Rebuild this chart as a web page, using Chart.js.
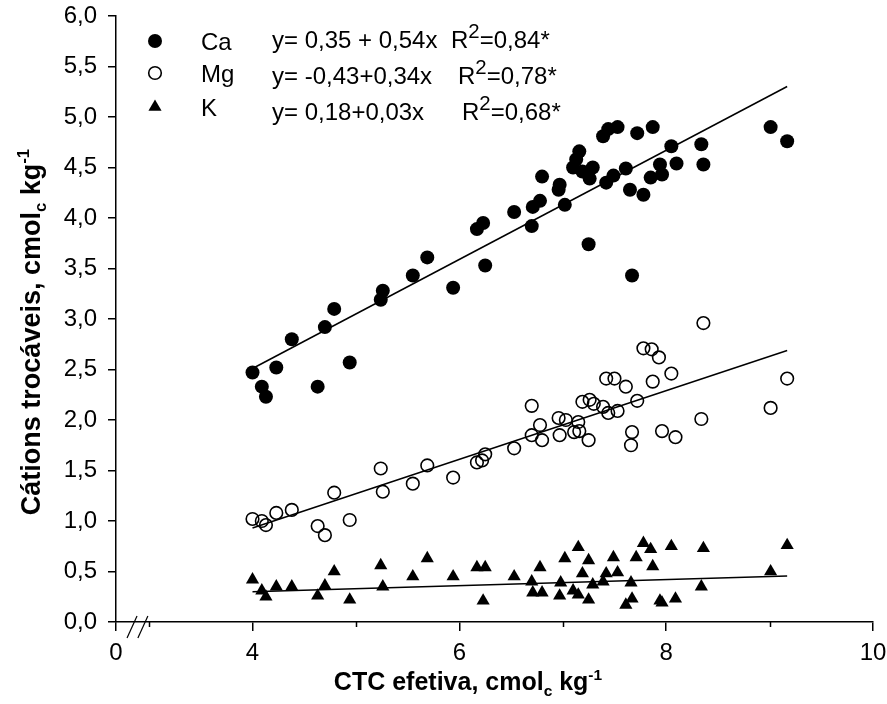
<!DOCTYPE html>
<html>
<head>
<meta charset="utf-8">
<title>Cátions trocáveis x CTC efetiva</title>
<script src="https://cdn.jsdelivr.net/npm/chart.js@4.4.0/dist/chart.umd.min.js"></script>
<style>
  html, body { margin: 0; padding: 0; background: #fff; }
  canvas { display: block; }
</style>
</head>
<body>
<canvas id="chart" width="887" height="704"></canvas>
<script>
// Exchangeable cations (Ca, Mg, K) against effective CEC, with linear fits.

const seriesNames = ['Ca', 'Mg', 'K'];

const caX = [4.00, 4.09, 4.13, 4.23, 4.38, 4.63, 4.70, 4.79, 4.94, 5.24, 5.26, 5.55, 5.69, 5.94,
             6.17, 6.23, 6.25, 6.53, 6.70, 6.71, 6.78, 6.80, 6.97, 6.96, 7.02, 7.16, 7.13, 7.10,
             7.19, 7.26, 7.29, 7.39, 7.44, 7.53, 7.72, 7.87, 7.42, 7.49, 7.61, 7.65, 7.78, 7.85,
             7.94, 7.96, 8.05, 8.10, 8.34, 8.36, 9.01, 9.17, 7.25, 7.67];
const caY = [2.47, 2.33, 2.23, 2.52, 2.80, 2.33, 2.92, 3.10, 2.57, 3.19, 3.28, 3.43, 3.61, 3.31,
             3.89, 3.95, 3.53, 4.06, 3.92, 4.11, 4.17, 4.41, 4.33, 4.28, 4.13, 4.66, 4.58, 4.50,
             4.46, 4.39, 4.50, 4.81, 4.88, 4.90, 4.84, 4.90, 4.35, 4.42, 4.49, 4.28, 4.23, 4.40,
             4.53, 4.43, 4.71, 4.54, 4.73, 4.53, 4.90, 4.76, 3.74, 3.43];

const mgX = [4.00, 4.09, 4.13, 4.23, 4.38, 4.63, 4.70, 4.79, 4.94, 5.24, 5.26, 5.55, 5.69, 5.94,
             6.17, 6.22, 6.25, 6.53, 6.70, 6.70, 6.78, 6.80, 6.96, 6.97, 7.03, 7.15, 7.11, 7.16,
             7.25, 7.19, 7.26, 7.30, 7.39, 7.44, 7.53, 7.42, 7.50, 7.61, 7.72, 7.67, 7.66, 7.78,
             7.86, 7.93, 7.87, 8.05, 7.96, 8.09, 8.36, 8.34, 9.01, 9.17];
const mgY = [1.02, 1.00, 0.96, 1.08, 1.11, 0.95, 0.86, 1.28, 1.01, 1.52, 1.29, 1.37, 1.55, 1.43,
             1.58, 1.60, 1.66, 1.72, 2.14, 1.85, 1.95, 1.80, 2.02, 1.85, 2.00, 1.98, 1.88, 1.89,
             1.80, 2.18, 2.20, 2.16, 2.13, 2.07, 2.09, 2.41, 2.41, 2.33, 2.19, 1.88, 1.75, 2.71,
             2.70, 2.62, 2.38, 2.46, 1.89, 1.83, 2.96, 2.01, 2.12, 2.41];

const kX = [4.00, 4.09, 4.13, 4.23, 4.38, 4.63, 4.70, 4.79, 4.94, 5.24, 5.26, 5.55, 5.69, 5.94,
            6.17, 6.25, 6.23, 6.53, 6.70, 6.78, 6.71, 6.80, 6.97, 6.98, 7.02, 7.10, 7.15, 7.15,
            7.19, 7.25, 7.25, 7.29, 7.39, 7.42, 7.49, 7.53, 7.61, 7.67, 7.66, 7.71, 7.78, 7.85,
            7.87, 7.94, 7.96, 8.05, 8.09, 8.36, 8.34, 9.01, 9.17];
const kY = [0.42, 0.31, 0.25, 0.35, 0.35, 0.26, 0.36, 0.50, 0.22, 0.56, 0.35, 0.45, 0.63, 0.45,
            0.54, 0.54, 0.21, 0.45, 0.40, 0.54, 0.29, 0.29, 0.26, 0.39, 0.63, 0.31, 0.27, 0.74,
            0.48, 0.61, 0.22, 0.37, 0.40, 0.48, 0.64, 0.49, 0.17, 0.23, 0.39, 0.64, 0.78, 0.72,
            0.55, 0.21, 0.19, 0.75, 0.23, 0.73, 0.35, 0.50, 0.76];

// Fitted equations y = a + b·x
const intercepts = [0.35, -0.43, 0.18];
const slopes = [0.54, 0.34, 0.03];
const r2Values = [0.84, 0.78, 0.68];

// Axis ticks; the x axis is broken, its first tick stands for zero
const xBreakLabel = '0';
const xMajorTicks = [4, 6, 8, 10];
const xMinorTicks = [3, 5, 7, 9];
const yTickStep = 0.5;
const yMax = 6;

// ---- styles ----
const FONT = '"Liberation Sans", Arial, Helvetica, sans-serif';
const TEXT_SIZE = 24;
const X_TITLE_SIZE = 25;
const Y_TITLE_SIZE = 27;
const AXIS_W = 1.5;
const X_START = 2.68;
const X_END = 10;

const comma = (v, d) => v.toFixed(d).replace('.', ',');
const pairs = (xs, ys) => xs.map((x, i) => ({ x, y: ys[i] }));

const fitFrom = Math.min(...caX, ...mgX, ...kX);
const fitTo = Math.max(...caX, ...mgX, ...kX);

const markerStyles = [
  { pointStyle: 'circle', radius: 7, backgroundColor: '#000', borderColor: '#000', borderWidth: 0 },
  { pointStyle: 'circle', radius: 6.3, backgroundColor: 'rgba(0,0,0,0)', borderColor: '#000', borderWidth: 1.6 },
  { pointStyle: 'triangle', radius: 7.6, backgroundColor: '#000', borderColor: '#000', borderWidth: 0 }
];

const pointSets = [pairs(caX, caY), pairs(mgX, mgY), pairs(kX, kY)];

const datasets = [];
pointSets.forEach((data, i) => {
  const m = markerStyles[i];
  datasets.push({
    label: seriesNames[i],
    data,
    showLine: false,
    pointStyle: m.pointStyle,
    pointRadius: m.radius,
    pointBackgroundColor: m.backgroundColor,
    pointBorderColor: m.borderColor,
    pointBorderWidth: m.borderWidth,
    order: 1
  });
});
intercepts.forEach((a, i) => {
  const b = slopes[i];
  datasets.push({
    label: seriesNames[i] + ' ajuste',
    data: [{ x: fitFrom, y: a + b * fitFrom }, { x: fitTo, y: a + b * fitTo }],
    showLine: true,
    borderColor: '#000',
    borderWidth: 1.5,
    pointRadius: 0,
    order: 2
  });
});

// Equation strings built from the coefficients
const eqSeparators = [' + ', '+', '+'];
const equationText = intercepts.map((a, i) =>
  'y= ' + comma(a, 2) + eqSeparators[i] + comma(slopes[i], 2) + 'x');

// Draws a run of text pieces; each piece is [text, mode] where mode is '', 'sub' or 'sup'
function drawRich(ctx, parts, x, y, size, weight, align, supScale) {
  const sizeOf = m => (m === 'sup' ? size * (supScale || 0.62) : m === 'sub' ? size * 0.62 : size);
  const widths = parts.map(([t, m]) => {
    ctx.font = `${weight} ${sizeOf(m)}px ${FONT}`;
    return ctx.measureText(t).width;
  });
  const total = widths.reduce((s, w) => s + w, 0);
  let cx = align === 'center' ? x - total / 2 : x;
  ctx.textAlign = 'left';
  ctx.textBaseline = 'alphabetic';
  parts.forEach(([t, m], i) => {
    ctx.font = `${weight} ${sizeOf(m)}px ${FONT}`;
    const dy = m === 'sub' ? size * 0.24 : m === 'sup' ? -size * 0.42 : 0;
    ctx.fillText(t, cx, y + dy);
    cx += widths[i];
  });
}

const overlay = {
  id: 'overlay',
  afterDraw(chart) {
    const { ctx, chartArea: area } = chart;
    const sx = chart.scales.x;
    ctx.save();
    ctx.strokeStyle = '#000';
    ctx.fillStyle = '#000';
    ctx.lineWidth = AXIS_W;

    // minor ticks on the x axis
    xMinorTicks.forEach(v => {
      const px = Math.round(sx.getPixelForValue(v)) + 0.5;
      ctx.beginPath();
      ctx.moveTo(px, area.bottom);
      ctx.lineTo(px, area.bottom + 5);
      ctx.stroke();
    });

    // axis break marks
    ctx.lineWidth = 1.2;
    [2.835, 2.94].forEach(v => {
      const px = sx.getPixelForValue(v);
      ctx.beginPath();
      ctx.moveTo(px - 5, area.bottom + 16);
      ctx.lineTo(px + 5, area.bottom - 6);
      ctx.stroke();
    });

    // legend
    const legendY = [41, 73, 107];
    markerStyles.forEach((m, i) => {
      ctx.fillStyle = m.backgroundColor;
      ctx.strokeStyle = m.borderColor;
      ctx.lineWidth = m.borderWidth;
      Chart.helpers.drawPoint(ctx, { pointStyle: m.pointStyle, radius: m.radius, borderWidth: m.borderWidth, rotation: 0 }, 155, legendY[i]);
    });
    ctx.fillStyle = '#000';
    seriesNames.forEach((n, i) => {
      drawRich(ctx, [[n, '']], 201, legendY[i] + 9, TEXT_SIZE, 'normal', 'left');
    });

    // equations and coefficients of determination
    const eqY = [48, 84, 120];
    const r2X = [451, 458, 462];
    equationText.forEach((t, i) => {
      drawRich(ctx, [[t, '']], 272, eqY[i], TEXT_SIZE, 'normal', 'left');
      drawRich(ctx, [['R', ''], ['2', 'sup'], ['=' + comma(r2Values[i], 2) + '*', '']],
        r2X[i], eqY[i], TEXT_SIZE, 'normal', 'left', 0.85);
    });

    // axis titles
    drawRich(ctx, [['CTC efetiva, cmol', ''], ['c', 'sub'], [' kg', ''], ['-1', 'sup']],
      468, 690, X_TITLE_SIZE, 'bold', 'center');
    ctx.save();
    ctx.translate(40, 332);
    ctx.rotate(-Math.PI / 2);
    drawRich(ctx, [['Cátions trocáveis, cmol', ''], ['c', 'sub'], [' kg', ''], ['-1', 'sup']],
      0, 0, Y_TITLE_SIZE, 'bold', 'center');
    ctx.restore();

    ctx.restore();
  }
};

const tickFont = { family: FONT, size: TEXT_SIZE };

// keep the plot area where the layout padding puts it
const noEdgePadding = s => { s.paddingLeft = 0; s.paddingRight = 0; s.paddingTop = 0; s.paddingBottom = 0; };

new Chart(document.getElementById('chart'), {
  type: 'scatter',
  data: { datasets },
  options: {
    responsive: false,
    animation: false,
    devicePixelRatio: 1,
    layout: { padding: { top: 16, right: 14, bottom: 0, left: 0 } },
    plugins: { legend: { display: false }, tooltip: { enabled: false } },
    scales: {
      x: {
        type: 'linear',
        min: X_START,
        max: X_END,
        afterBuildTicks: s => { s.ticks = [X_START, ...xMajorTicks].map(value => ({ value })); },
        afterFit: s => { s.height = 82; noEdgePadding(s); },
        border: { color: '#000', width: AXIS_W },
        grid: { drawOnChartArea: false, tickLength: 9, color: '#000', lineWidth: AXIS_W },
        ticks: {
          font: tickFont, color: '#000', padding: 8, maxRotation: 0, autoSkip: false,
          callback: v => (v === X_START ? xBreakLabel : String(v))
        }
      },
      y: {
        min: 0,
        max: yMax,
        afterFit: s => { s.width = 116; noEdgePadding(s); },
        border: { color: '#000', width: AXIS_W },
        grid: { drawOnChartArea: false, tickLength: 8, color: '#000', lineWidth: AXIS_W },
        ticks: {
          stepSize: yTickStep, font: tickFont, color: '#000', padding: 11,
          callback: v => comma(v, 1)
        }
      }
    }
  },
  plugins: [overlay]
});
</script>
</body>
</html>
